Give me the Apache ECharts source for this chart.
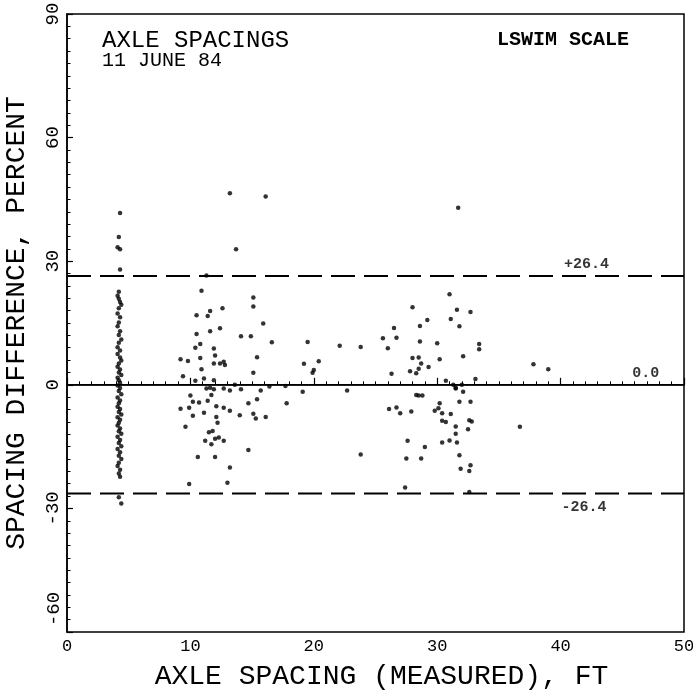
<!DOCTYPE html>
<html><head><meta charset="utf-8">
<script src="https://cdn.jsdelivr.net/npm/echarts@6/dist/echarts.min.js"></script>
<style>html,body{margin:0;padding:0;background:#fff}#c{width:693px;height:693px}</style>
</head><body><div id="c"></div>
<script>
// ---------- data ----------
const xTickValues = [0, 10, 20, 30, 40, 50];
const yTickValues = [-60, -30, 0, 30, 60, 90];
const upperLimit = 26.4;
const lowerLimit = -26.4;
const meanLine = 0.0;
const upperLabel = '+26.4';
const lowerLabel = '-26.4';
const meanLabel = '0.0';

// tandem-axle column near 4 ft
const column4ft = [
  [4.3,41.7],[4.2,35.9],[4.1,33.4],[4.3,32.9],[4.3,28.0],
  [4.2,22.6],[4.1,21.6],[4.2,20.9],[4.3,20.1],[4.4,19.4],[4.2,18.6],[4.1,17.3],[4.3,16.4],
  [4.2,15.1],[4.1,14.2],[4.3,13.0],[4.2,12.1],[4.4,11.0],[4.2,10.2],[4.1,9.1],[4.3,8.3],
  [4.1,7.5],[4.3,6.6],[4.4,5.9],[4.2,5.2],[4.1,4.4],[4.3,3.7],[4.2,3.0],[4.4,2.4],
  [4.1,1.7],[4.2,1.1],[4.3,0.5],[4.1,-0.2],[4.3,-0.8],[4.2,-1.5],[4.4,-2.3],[4.1,-3.1],
  [4.3,-3.8],[4.2,-4.5],[4.1,-5.3],[4.3,-5.9],[4.2,-6.6],[4.4,-7.2],[4.1,-7.9],[4.3,-8.5],
  [4.2,-9.2],[4.1,-9.9],[4.3,-10.6],[4.2,-11.3],[4.4,-11.9],[4.1,-12.6],[4.3,-13.4],[4.2,-14.1],
  [4.4,-14.9],[4.1,-15.6],[4.3,-16.4],[4.2,-17.2],[4.4,-18.0],[4.2,-18.9],[4.1,-19.7],[4.3,-20.6],
  [4.2,-21.5],[4.3,-22.3],[4.2,-27.3],[4.4,-28.8]
];

// spacings from about 9 to 21 ft
const midSpacings = [
  [13.2,46.5],[16.1,45.7],[13.7,32.9],[11.3,26.5],[10.9,22.8],[15.1,21.2],[15.1,19.0],
  [12.6,18.6],[11.6,17.9],[10.5,16.9],[11.4,16.7],[15.9,14.9],[11.6,13.0],[12.4,13.7],
  [10.5,12.3],[14.1,11.8],[14.9,11.8],[16.6,10.3],[19.5,10.4],[10.8,9.9],[10.4,9.0],
  [11.9,8.8],[12.0,7.1],[15.4,6.7],[9.2,6.2],[9.8,5.8],[10.8,6.5],[11.9,5.2],[12.4,5.2],
  [12.7,5.6],[12.8,4.8],[19.2,5.1],[20.4,5.7],[20.0,3.6],[19.9,2.9],[15.1,2.9],[10.9,3.8],
  [9.4,2.1],[11.1,1.5],[10.4,1.0],[11.9,1.1],[11.3,-0.9],[11.6,-0.7],[11.9,-1.1],[12.7,-0.9],
  [13.2,-1.4],[13.6,0.0],[14.1,-1.1],[15.7,-1.4],[16.4,-0.4],[17.7,-0.3],[19.1,-1.7],
  [10.0,-2.6],[11.7,-2.5],[10.2,-4.1],[10.7,-4.3],[11.4,-3.9],[15.4,-3.5],[14.7,-4.5],
  [17.8,-4.5],[9.2,-5.8],[9.9,-5.6],[12.1,-5.2],[12.7,-5.6],[13.2,-6.3],[11.1,-6.8],
  [10.2,-7.5],[14.0,-7.4],[15.1,-7.0],[15.3,-8.2],[16.1,-7.8],[12.1,-7.8],[12.2,-9.2],
  [9.6,-10.2],[11.5,-11.5],[11.8,-11.2],[11.2,-13.6],[11.7,-14.4],[12.0,-13.1],[12.3,-12.8],
  [12.7,-13.6],[14.7,-15.8],[10.6,-17.5],[12.0,-17.5],[13.2,-20.1],[9.9,-24.1],[13.0,-23.8]
];

// spacings from about 22 to 40 ft
const longSpacings = [
  [22.1,9.5],[23.8,9.2],[25.6,11.3],[26.0,8.9],[22.7,-1.4],[23.8,-16.9],[26.1,-5.9],
  [31.7,43.0],[31.0,22.0],[28.0,18.8],[31.6,18.2],[32.7,17.7],[29.2,15.7],[31.1,16.0],
  [26.5,13.8],[28.6,14.3],[31.8,14.2],[26.7,11.4],[28.6,10.5],[30.0,10.1],[33.4,9.9],
  [33.4,8.6],[28.0,6.5],[28.5,6.6],[30.2,6.2],[32.1,6.9],[28.7,5.2],[29.3,4.3],[28.5,3.9],
  [27.8,3.3],[28.3,2.8],[26.3,2.7],[33.1,1.4],[30.7,1.0],[31.3,0.0],[31.5,-0.9],[32.0,0.0],
  [31.5,-0.7],[32.1,-1.7],[28.3,-2.5],[28.5,-2.6],[28.8,-2.6],[31.8,-4.1],[32.7,-4.1],
  [26.7,-5.5],[27.0,-6.9],[27.9,-6.5],[29.8,-6.3],[30.1,-5.7],[30.2,-4.5],[30.4,-6.9],
  [31.1,-7.1],[30.4,-8.7],[30.7,-9.0],[32.6,-8.6],[32.8,-8.9],[31.5,-10.1],[32.5,-10.8],
  [31.5,-11.9],[27.6,-13.6],[30.4,-14.0],[31.0,-13.5],[31.6,-14.0],[29.0,-15.1],[36.7,-10.2],
  [27.5,-17.9],[28.7,-17.9],[31.8,-17.1],[32.7,-19.5],[31.9,-20.4],[32.6,-20.9],[27.4,-24.9],
  [32.6,-26.0],[37.8,5.0],[39.0,3.8]
];

// ---------- chart ----------
const FONT = 'Liberation Mono';
const chart = echarts.init(document.getElementById('c'), null, {renderer: 'canvas'});
const dotStyle = {color: '#000'};
const allPoints = column4ft.concat(midSpacings, longSpacings);

chart.setOption({
  backgroundColor: '#fff',
  animation: false,
  grid: {left: 67, right: 9, top: 14, bottom: 61, containLabel: false, outerBoundsMode: 'none',
         show: true, borderColor: '#000', borderWidth: 1.5, backgroundColor: 'transparent'},
  xAxis: {
    type: 'value', min: xTickValues[0], max: xTickValues[xTickValues.length - 1], interval: 10,
    axisLine: {show: true, lineStyle: {color: '#000', width: 1.5}},
    axisTick: {show: true, inside: true, length: 7, lineStyle: {color: '#000', width: 1.2}},
    minorTick: {show: true, splitNumber: 10, length: 3.5, lineStyle: {color: '#000', width: 1}},
    splitLine: {show: false},
    axisLabel: {color: '#000', fontFamily: FONT, fontSize: 17, margin: 6},
    name: 'AXLE SPACING (MEASURED), FT', nameLocation: 'middle', nameGap: 31,
    nameTextStyle: {color: '#000', fontFamily: FONT, fontSize: 28, padding: [0, 0, 0, 12]}
  },
  yAxis: {
    type: 'value', min: yTickValues[0], max: yTickValues[yTickValues.length - 1], interval: 30,
    axisLine: {show: true, lineStyle: {color: '#000', width: 1.5}},
    axisTick: {show: true, inside: true, length: 6, lineStyle: {color: '#000', width: 1.2}},
    minorTick: {show: true, splitNumber: 10, length: 3.5, lineStyle: {color: '#000', width: 1}},
    splitLine: {show: false},
    axisLabel: {color: '#000', fontFamily: FONT, fontSize: 19, rotate: 90, margin: 5, showMinLabel: false},
    name: 'SPACING DIFFERENCE, PERCENT', nameLocation: 'middle', nameGap: 36,
    nameTextStyle: {color: '#000', fontFamily: FONT, fontSize: 28}
  },
  graphic: [
    {type: 'text', left: 102, top: 29, style: {text: 'AXLE SPACINGS', fontFamily: FONT, fontSize: 24, fill: '#000'}},
    {type: 'text', left: 102, top: 51, style: {text: '11 JUNE 84', fontFamily: FONT, fontSize: 20, fill: '#000'}},
    {type: 'text', left: 497, top: 30, style: {text: 'LSWIM SCALE', fontFamily: FONT, fontSize: 20, fontWeight: 'bold', fill: '#000'}},
    {type: 'text', x: 54, y: 609, rotation: Math.PI / 2, style: {text: String(yTickValues[0]), fontFamily: FONT, fontSize: 19, fill: '#000', align: 'center', verticalAlign: 'middle'}}
  ],
  series: [
    {type: 'line', data: [[0, upperLimit], [50, upperLimit]], symbol: 'none', silent: true,
     lineStyle: {color: '#000', width: 2, type: [24, 9]}},
    {type: 'line', data: [[0, lowerLimit], [50, lowerLimit]], symbol: 'none', silent: true,
     lineStyle: {color: '#000', width: 2, type: [24, 9]}},
    {type: 'line', data: [[0, meanLine], [50, meanLine]], symbol: 'none', silent: true,
     lineStyle: {color: '#000', width: 1.5}},
    {type: 'scatter', symbol: 'circle', symbolSize: 4.5, itemStyle: dotStyle, data: allPoints},
    {type: 'scatter', symbolSize: 0, silent: true,
     label: {show: true, color: '#000', fontFamily: FONT, fontSize: 15, fontWeight: 'bold'},
     data: [
       {value: [42.1, upperLimit], label: {formatter: upperLabel, position: 'top', distance: 4}},
       {value: [46.9, meanLine], label: {formatter: meanLabel, position: 'top', distance: 4}},
       {value: [41.9, lowerLimit], label: {formatter: lowerLabel, position: 'bottom', distance: 6}}
     ]}
  ]
});
</script>
</body></html>
